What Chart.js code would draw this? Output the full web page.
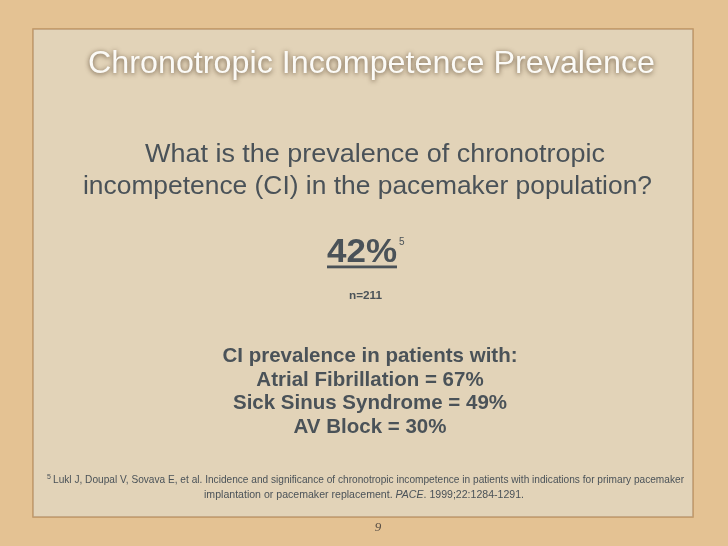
<!DOCTYPE html>
<html>
<head>
<meta charset="utf-8">
<script src="https://cdn.jsdelivr.net/npm/chart.js@4.4.1/dist/chart.umd.min.js"></script>
<style>
  html, body { margin: 0; padding: 0; background: #e4c293; }
  #slide { display: block; }
</style>
</head>
<body>
<canvas id="slide" width="728" height="546"></canvas>
<script>
const titleText = 'Chronotropic Incompetence Prevalence';
const questionLines = [
  'What is the prevalence of chronotropic',
  'incompetence (CI) in the pacemaker population?'
];
const overallPrevalence = 42;
const sampleSize = 211;
const refMark = '5';
const groupHeading = 'CI prevalence in patients with:';
const groups = ['Atrial Fibrillation', 'Sick Sinus Syndrome', 'AV Block'];
const groupValues = [67, 49, 30];
const footnoteLines = [
  'Lukl J, Doupal V, Sovava E, et al. Incidence and significance of chronotropic incompetence in patients with indications for primary pacemaker',
  'implantation or pacemaker replacement. '
];
const footnoteJournal = 'PACE';
const footnoteTail = '. 1999;22:1284-1291.';
const pageNumber = '9';

const ink = '#4a5258';
const sans = '"Liberation Sans", Arial, sans-serif';

// draw text squeezed or stretched to a given width
const fitText = (ctx, text, x, y, width) => {
  const w = ctx.measureText(text).width;
  ctx.save();
  ctx.translate(x, y);
  ctx.scale(width / w, 1);
  ctx.fillText(text, 0, 0);
  ctx.restore();
};

// draws the paper card and all the slide text
const slidePlugin = {
  id: 'slide',
  beforeDraw(chart) {
    const ctx = chart.ctx;
    ctx.save();
    ctx.fillStyle = '#e4c293';
    ctx.fillRect(0, 0, chart.width, chart.height);

    // paper card
    ctx.fillStyle = '#e2d3b8';
    ctx.fillRect(33, 29, 660, 488);
    ctx.strokeStyle = 'rgba(150, 100, 50, 0.5)';
    ctx.lineWidth = 1.5;
    ctx.strokeRect(33, 29, 660, 488);
    ctx.restore();
  },
  afterDraw(chart) {
    const ctx = chart.ctx;
    ctx.save();
    ctx.textAlign = 'left';
    ctx.textBaseline = 'alphabetic';

    // title
    ctx.font = '32px ' + sans;
    ctx.shadowColor = 'rgba(60, 40, 20, 0.75)';
    ctx.shadowBlur = 5;
    ctx.shadowOffsetY = 1;
    ctx.fillStyle = '#fbfaf6';
    fitText(ctx, titleText, 88, 73, 567);
    ctx.shadowColor = 'transparent';
    ctx.shadowBlur = 0;
    ctx.shadowOffsetY = 0;

    // question
    ctx.fillStyle = ink;
    ctx.font = '26px ' + sans;
    fitText(ctx, questionLines[0], 145, 162, 460);
    fitText(ctx, questionLines[1], 83, 194, 569);

    // headline number
    ctx.font = 'bold 33px ' + sans;
    fitText(ctx, overallPrevalence + '%', 327, 262, 70);
    ctx.fillRect(327, 265.5, 70, 2.8);
    ctx.font = '10px ' + sans;
    ctx.fillText(refMark, 399, 245);

    ctx.font = 'bold 10.5px ' + sans;
    fitText(ctx, 'n=' + sampleSize, 349, 298.5, 33);

    // group breakdown
    ctx.textAlign = 'center';
    ctx.font = 'bold 20.5px ' + sans;
    ctx.fillText(groupHeading, 370, 362);
    groups.forEach((g, i) => {
      ctx.fillText(g + ' = ' + groupValues[i] + '%', 370, 386 + i * 23.3);
    });

    // footnote
    ctx.textAlign = 'left';
    ctx.font = '10.5px ' + sans;
    fitText(ctx, footnoteLines[0], 53, 483, 631);
    ctx.font = '7px ' + sans;
    ctx.fillText(refMark, 47, 479);

    ctx.font = '10.5px ' + sans;
    const a = footnoteLines[1];
    const wa = ctx.measureText(a).width;
    const wc = ctx.measureText(footnoteTail).width;
    ctx.font = 'italic 10.5px ' + sans;
    const wb = ctx.measureText(footnoteJournal).width;
    const sx = 320 / (wa + wb + wc);
    ctx.save();
    ctx.translate(204, 498);
    ctx.scale(sx, 1);
    ctx.font = '10.5px ' + sans;
    ctx.fillText(a, 0, 0);
    ctx.font = 'italic 10.5px ' + sans;
    ctx.fillText(footnoteJournal, wa, 0);
    ctx.font = '10.5px ' + sans;
    ctx.fillText(footnoteTail, wa + wb, 0);
    ctx.restore();

    // page number
    ctx.textAlign = 'center';
    ctx.font = 'italic 13px "Liberation Serif", serif';
    ctx.fillStyle = '#5a5046';
    ctx.fillText(pageNumber, 378, 531);
    ctx.restore();
  }
};

new Chart('slide', {
  type: 'bar',
  data: {
    labels: groups,
    datasets: []
  },
  options: {
    responsive: false,
    animation: false,
    events: [],
    plugins: {
      legend: { display: false },
      tooltip: { enabled: false },
      title: { display: false }
    },
    scales: {
      x: { display: false },
      y: { display: false }
    }
  },
  plugins: [slidePlugin]
});
</script>
</body>
</html>
